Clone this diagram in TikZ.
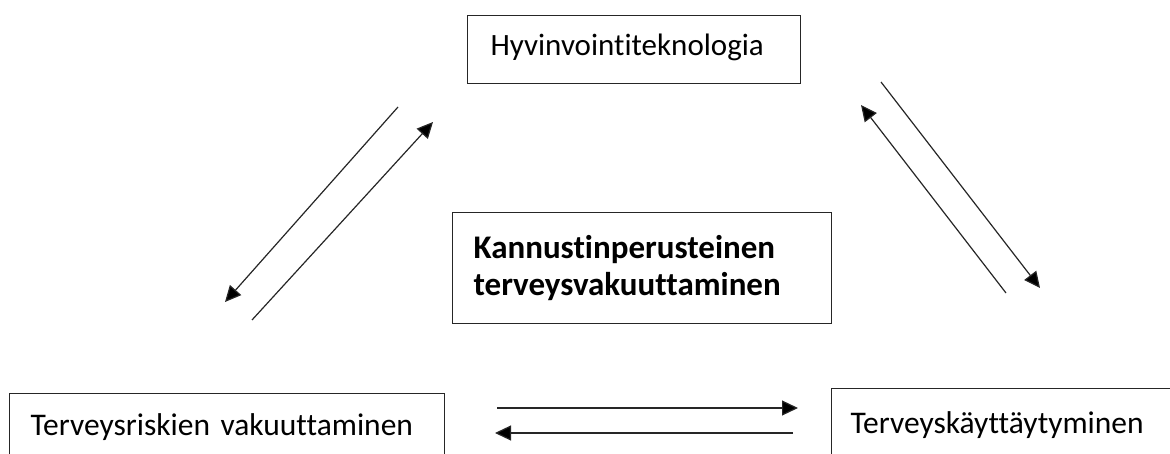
\documentclass[tikz,border=0pt]{standalone}
\usepackage{fontspec}
\setmainfont{Carlito}[Ligatures={NoCommon}]
\usetikzlibrary{arrows.meta}
\begin{document}
\begin{tikzpicture}[x=1pt,y=-1pt,
  boxnode/.style={draw=black!85, line width=1.2pt, inner ysep=0pt, align=left,
    font=\fontsize{31.5}{37}\selectfont},
  arr/.style={line width=1.2pt, draw=black!85, -{Triangle[length=16pt,width=15pt,fill=black]}},
  ln/.style={line width=1.2pt, draw=black!85}]
\useasboundingbox (0,0) rectangle (1170,454);
\clip (0,0) rectangle (1170,454);
% top box
\node[boxnode, anchor=north west, inner xsep=23pt, text width=287pt,
  text height=40pt, text depth=28pt, font=\fontsize{31}{37}\selectfont] (hyv) at (467,15) {Hyvinvointiteknologia};
% center box
\node[boxnode, anchor=north west, inner xsep=21pt, text width=337pt,
  minimum height=111pt, font=\fontsize{33}{37}\selectfont\bfseries] (kan) at (452,212)
  {Kannustinperusteinen\\terveysvakuuttaminen};
% bottom left box
\node[boxnode, anchor=north west, inner xsep=21pt, text width=393pt,
  text height=42pt, text depth=60pt] (ter) at (9,393) {Terveysriskien vakuuttaminen};
% bottom right box
\node[boxnode, anchor=north west, inner xsep=19pt, text width=400pt,
  text height=45pt, text depth=60pt] (kay) at (831,388) {Terveyskäyttäytyminen};
% arrow endpoints
\coordinate (l1s) at (398,107); \coordinate (l1e) at (225,302);
\coordinate (l2s) at (252,320); \coordinate (l2e) at (433,122);
\coordinate (r1s) at (881,82);  \coordinate (r1e) at (1040,288);
\coordinate (r2s) at (1006,293); \coordinate (r2e) at (861,105);
\coordinate (b1s) at (497,408); \coordinate (b1e) at (798,408);
\coordinate (b2s) at (793,433); \coordinate (b2e) at (495,433);
\draw[arr] (l1s) -- (l1e);
\draw[arr] (l2s) -- (l2e);
\draw[arr] (r1s) -- (r1e);
\draw[arr] (r2s) -- (r2e);
\draw[arr] (b1s) -- (b1e);
\draw[arr] (b2s) -- (b2e);
\end{tikzpicture}
\end{document}
